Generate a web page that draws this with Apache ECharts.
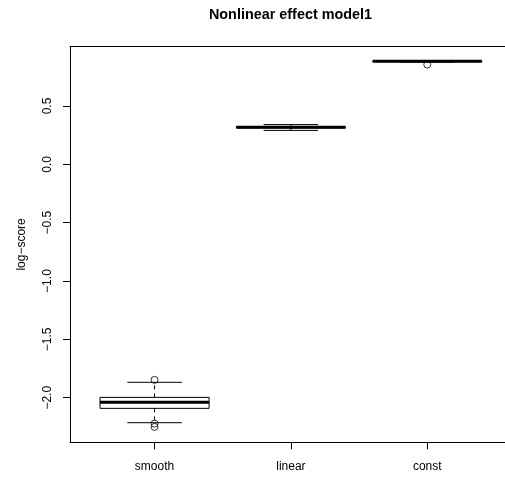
<!DOCTYPE html>
<html>
<head>
<meta charset="utf-8">
<script src="https://cdn.jsdelivr.net/npm/echarts@6/dist/echarts.min.js"></script>
<style>
  html, body { margin: 0; padding: 0; background: #fff; }
  #chart { width: 505px; height: 479px; }
</style>
</head>
<body>
<div id="chart"></div>
<script>
// Five-number summaries per model variant
const categories = ['smooth', 'linear', 'const'];
const whiskerLow = [-2.214, 0.291, 0.877];
const lowerQuartile = [-2.091, 0.312, 0.880];
const medians = [-2.039, 0.317, 0.883];
const upperQuartile = [-1.997, 0.322, 0.886];
const whiskerHigh = [-1.868, 0.341, 0.889];

// Points beyond the whiskers (group index is 1-based)
const outlierGroup = [1, 1, 1, 3];
const outlierValues = [-1.847, -2.222, -2.250, 0.855];

const yTicks = [-2, -1.5, -1, -0.5, 0, 0.5];
const yMin = -2.382, yMax = 1.010;
// plot region runs past the right edge of the canvas
const xMin = 0.38, xMax = 3.57;

const FONT = 'Liberation Sans, Arial, Helvetica, sans-serif';

const boxData = categories.map((c, i) => [
  i + 1, whiskerLow[i], lowerQuartile[i], medians[i], upperQuartile[i], whiskerHigh[i]
]);
const outlierData = outlierGroup.map((g, i) => [g, outlierValues[i]]);

function fmt(v) {
  return v.toFixed(1).replace('-', '\u2212');
}

function renderBox(params, api) {
  const x = api.value(0);
  const lo = api.value(1), q1 = api.value(2), md = api.value(3), q3 = api.value(4), hi = api.value(5);
  const halfBox = 0.4, halfCap = 0.2;
  const pLo = api.coord([x, lo]), pQ1 = api.coord([x, q1]);
  const pQ3 = api.coord([x, q3]), pHi = api.coord([x, hi]);
  const bl = api.coord([x - halfBox, q3]), br = api.coord([x + halfBox, q1]);
  const ml = api.coord([x - halfBox, md]), mr = api.coord([x + halfBox, md]);
  const cl = api.coord([x - halfCap, lo])[0], cr = api.coord([x + halfCap, lo])[0];
  const stroke = { stroke: '#000', lineWidth: 1, fill: null };
  const dashed = { stroke: '#000', lineWidth: 1, lineDash: [4, 4] };
  return {
    type: 'group',
    children: [
      { type: 'line', shape: { x1: pQ3[0], y1: pQ3[1], x2: pHi[0], y2: pHi[1] }, style: dashed },
      { type: 'line', shape: { x1: pQ1[0], y1: pQ1[1], x2: pLo[0], y2: pLo[1] }, style: dashed },
      { type: 'line', shape: { x1: cl, y1: pHi[1], x2: cr, y2: pHi[1] }, style: stroke },
      { type: 'line', shape: { x1: cl, y1: pLo[1], x2: cr, y2: pLo[1] }, style: stroke },
      { type: 'rect', shape: { x: bl[0], y: bl[1], width: br[0] - bl[0], height: br[1] - bl[1] }, style: stroke },
      { type: 'line', shape: { x1: ml[0], y1: ml[1], x2: mr[0], y2: mr[1] }, style: { stroke: '#000', lineWidth: 3 } }
    ]
  };
}

const axisColor = { color: '#000', width: 1 };

const chart = echarts.init(document.getElementById('chart'), null, { renderer: 'canvas' });
chart.setOption({
  animation: false,
  backgroundColor: '#fff',
  textStyle: { fontFamily: FONT },
  graphic: [{
    type: 'text',
    x: 290.5,
    y: 15.5,
    style: {
      text: 'Nonlinear effect model1',
      fontFamily: FONT,
      fontSize: 14.4,
      fontWeight: 'bold',
      fill: '#000',
      textAlign: 'center',
      textVerticalAlign: 'middle'
    }
  }],
  grid: { left: 70, top: 46.5, right: 0, bottom: 36.7, show: false },
  xAxis: [
    {
      type: 'value',
      position: 'bottom',
      min: xMin, max: xMax,
      axisLine: { show: true, onZero: false, lineStyle: axisColor },
      splitLine: { show: false },
      axisTick: { show: true, length: 7, customValues: [1, 2, 3], lineStyle: axisColor },
      axisLabel: {
        customValues: [1, 2, 3],
        formatter: v => categories[Math.round(v) - 1],
        color: '#000', fontSize: 12, fontFamily: FONT, margin: 18
      }
    },
    {
      // top edge of the plot frame
      type: 'value',
      position: 'top',
      min: xMin, max: xMax,
      axisLine: { show: true, onZero: false, lineStyle: axisColor },
      axisTick: { show: false },
      axisLabel: { show: false },
      splitLine: { show: false }
    }
  ],
  yAxis: {
    type: 'value',
    min: yMin, max: yMax,
    name: 'log\u2212score',
    nameLocation: 'middle',
    nameRotate: 90,
    nameGap: 42,
    nameTextStyle: { color: '#000', fontSize: 12, fontFamily: FONT },
    axisLine: { show: true, onZero: false, lineStyle: axisColor },
    splitLine: { show: false },
    axisTick: { show: true, length: 7, customValues: yTicks, lineStyle: axisColor },
    axisLabel: {
      customValues: yTicks,
      rotate: 90,
      formatter: fmt,
      color: '#000', fontSize: 12, fontFamily: FONT, margin: 16
    }
  },
  series: [
    {
      type: 'custom',
      renderItem: renderBox,
      data: boxData,
      encode: { x: 0, y: [1, 2, 3, 4, 5] },
      clip: false
    },
    {
      type: 'scatter',
      data: outlierData,
      symbol: 'circle',
      symbolSize: 7,
      itemStyle: { color: 'rgba(0,0,0,0)', borderColor: '#000', borderWidth: 1 },
      z: 3
    }
  ]
});
</script>
</body>
</html>
